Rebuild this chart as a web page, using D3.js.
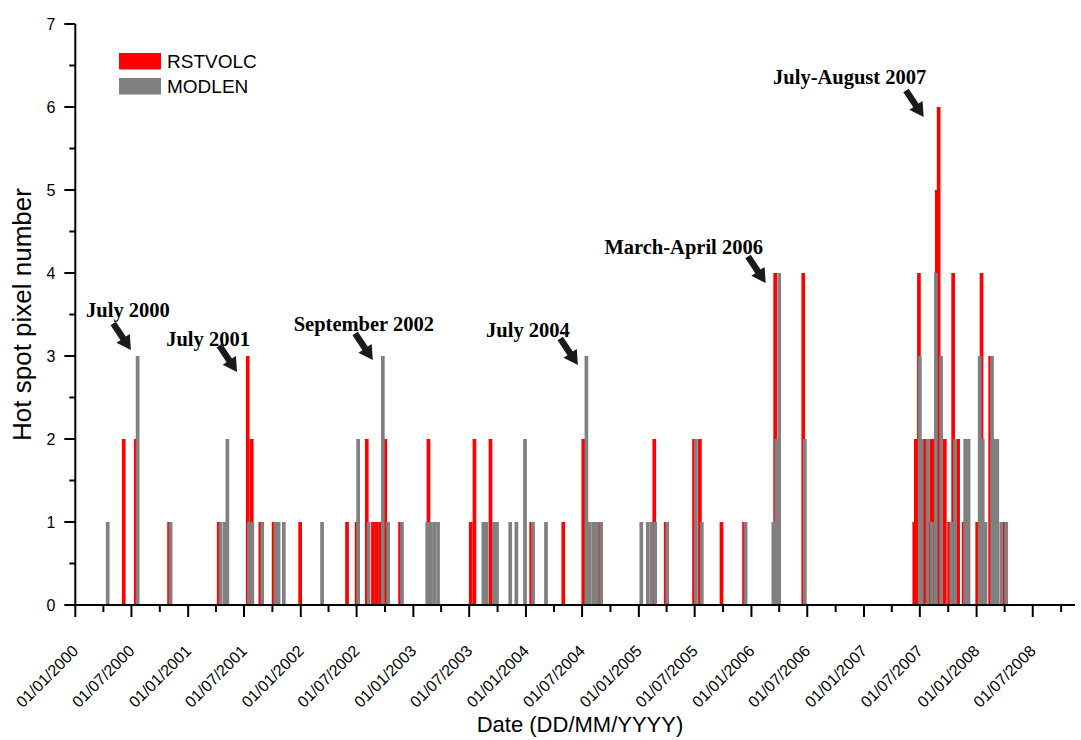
<!DOCTYPE html>
<html>
<head>
<meta charset="utf-8">
<script src="https://cdn.jsdelivr.net/npm/d3@7"></script>
<style>
  body { margin: 0; background: #fff; }
  svg { display: block; }
</style>
</head>
<body>
<svg id="chart" width="1081" height="740"></svg>
<script>
// Hot spot detections per acquisition date, two algorithms
const rstvolcDates = [
  "2000-06-06","2000-07-15","2000-10-31","2001-04-10","2001-07-13","2001-07-26",
  "2001-08-23","2001-10-05","2001-12-30","2002-05-31","2002-07-01","2002-08-03",
  "2002-08-23","2002-09-03","2002-09-15","2002-10-02","2002-11-19","2003-02-19",
  "2003-07-06","2003-07-18","2003-09-08","2004-01-18","2004-05-01","2004-07-05",
  "2004-08-23","2005-02-20","2005-03-29","2005-06-29","2005-07-18","2005-09-26",
  "2005-12-08","2006-03-19","2006-06-18","2007-06-13","2007-06-18","2007-06-28",
  "2007-07-15","2007-07-24","2007-08-01","2007-08-07","2007-08-15","2007-08-25",
  "2007-08-31","2007-09-20","2007-10-04","2007-10-17","2007-11-02","2007-11-20",
  "2008-01-03","2008-01-17","2008-02-14","2008-04-01"
];
const rstvolcCounts = [
  2,2,1,1,3,2,
  1,1,1,1,1,2,
  1,1,1,2,1,2,
  1,2,2,1,1,2,
  1,2,1,2,2,1,
  1,4,4,1,2,4,
  2,2,1,2,2,5,
  6,2,1,4,2,1,
  1,4,3,1
];

const modlenDates = [
  "2000-04-15","2000-07-21","2000-11-05","2001-04-16","2001-04-29","2001-05-08",
  "2001-07-17","2001-07-28","2001-08-29","2001-10-11","2001-10-21","2001-11-07",
  "2002-03-11","2002-07-06","2002-08-09","2002-09-24","2002-10-11","2002-11-25",
  "2003-02-15","2003-02-27","2003-03-10","2003-03-22","2003-08-16","2003-08-26",
  "2003-09-19","2003-09-29","2003-11-11","2003-12-01","2003-12-29","2004-01-24",
  "2004-03-06","2004-07-15","2004-07-26","2004-08-07","2004-08-18","2004-09-01",
  "2005-01-09","2005-01-30","2005-02-11","2005-02-23","2005-04-03","2005-07-05",
  "2005-07-24","2005-12-13","2006-03-13","2006-03-23","2006-04-01","2006-06-23",
  "2007-07-01","2007-07-07","2007-07-26","2007-08-09","2007-08-22","2007-09-08",
  "2007-10-11","2007-10-23","2007-11-25","2007-12-06","2008-01-11","2008-01-21",
  "2008-01-30","2008-02-20","2008-02-28","2008-03-08","2008-03-21","2008-04-06"
];
const modlenCounts = [
  1,3,1,1,1,2,
  1,1,1,1,1,1,
  1,2,1,3,1,1,
  1,1,1,1,1,1,
  1,1,1,1,2,1,
  1,3,1,1,1,1,
  1,1,1,1,1,2,
  1,1,1,2,4,2,
  3,2,2,1,4,3,
  1,2,2,2,3,2,
  1,3,2,2,1,1
];

const seriesNames = ["RSTVOLC", "MODLEN"];
const yTickValues = [0, 1, 2, 3, 4, 5, 6, 7];
const axisStart = "2000-01-01";
const axisEnd = "2008-11-15";

// Events called out on the chart
const noteLabels = ["July 2000", "July 2001", "September 2002", "July 2004", "March-April 2006", "July-August 2007"];
const noteDates  = ["2000-07-21", "2001-07-13", "2002-09-24", "2004-07-15", "2006-04-01", "2007-08-31"];
const noteCounts = [3, 3, 3, 3, 4, 6];

// ---- layout ----
const svg = d3.select("#chart");
const margin = { left: 75.3, top: 24, bottomY: 605, right: 1075 };
const parse = d3.utcParse("%Y-%m-%d");
const fmt = d3.utcFormat("%d/%m/%Y");
const colors = { RSTVOLC: "#ff0000", MODLEN: "#808080" };

const x = d3.scaleUtc()
  .domain([parse(axisStart), parse(axisEnd)])
  .range([margin.left, margin.right]);
const y = d3.scaleLinear()
  .domain([0, 7])
  .range([margin.bottomY, margin.top]);

const d0 = parse(axisStart);
const barW = x(d3.utcDay.offset(d0, 12)) - x(d0);

function barsFor(dates, counts) {
  return dates.map((d, i) => ({ date: parse(d), value: counts[i] }));
}
const rst = barsFor(rstvolcDates, rstvolcCounts);
const mod = barsFor(modlenDates, modlenCounts);

function drawBars(data, color) {
  svg.append("g").selectAll("rect").data(data).join("rect")
    .attr("x", d => x(d.date) - barW / 2)
    .attr("width", barW)
    .attr("y", d => y(d.value))
    .attr("height", d => y(0) - y(d.value))
    .attr("fill", color);
}
drawBars(rst, colors.RSTVOLC);
drawBars(mod, colors.MODLEN);

// ---- axes ----
const font = "Arial, 'Liberation Sans', Helvetica, sans-serif";

// y axis
const yAxis = svg.append("g").attr("transform", `translate(${margin.left},0)`);
yAxis.append("line")
  .attr("x1", 0).attr("x2", 0).attr("y1", y(7)).attr("y2", y(0))
  .attr("stroke", "#000").attr("stroke-width", 2);
yAxis.selectAll(".maj").data(yTickValues).join("line")
  .attr("x1", -11).attr("x2", 0)
  .attr("y1", d => y(d)).attr("y2", d => y(d))
  .attr("stroke", "#000").attr("stroke-width", 2);
yAxis.selectAll(".min").data(d3.range(0.5, 7, 1)).join("line")
  .attr("x1", -6).attr("x2", 0)
  .attr("y1", d => y(d)).attr("y2", d => y(d))
  .attr("stroke", "#000").attr("stroke-width", 2);
yAxis.selectAll("text").data(yTickValues).join("text")
  .attr("x", -20).attr("y", d => y(d)).attr("dy", "0.35em")
  .attr("text-anchor", "end")
  .attr("font-family", font).attr("font-size", 16)
  .text(d => d);

// x axis
const xAxis = svg.append("g").attr("transform", `translate(0,${margin.bottomY})`);
xAxis.append("line")
  .attr("x1", margin.left - 1).attr("x2", margin.right)
  .attr("y1", 0).attr("y2", 0)
  .attr("stroke", "#000").attr("stroke-width", 2);
const majorTicks = d3.utcMonth.every(6).range(parse(axisStart), d3.utcDay.offset(parse(axisEnd), 1));
const minorTicks = d3.utcMonth.every(3).range(parse(axisStart), parse(axisEnd))
  .filter(d => d.getUTCMonth() % 6 !== 0);
xAxis.selectAll(".maj").data(majorTicks).join("line")
  .attr("x1", d => x(d)).attr("x2", d => x(d))
  .attr("y1", 0).attr("y2", 12)
  .attr("stroke", "#000").attr("stroke-width", 2);
xAxis.selectAll(".min").data(minorTicks).join("line")
  .attr("x1", d => x(d)).attr("x2", d => x(d))
  .attr("y1", 0).attr("y2", 7)
  .attr("stroke", "#000").attr("stroke-width", 2);
xAxis.selectAll("text").data(majorTicks).join("text")
  .attr("transform", d => `translate(${x(d) + 4},${47}) rotate(-45)`)
  .attr("text-anchor", "end")
  .attr("font-family", font).attr("font-size", 16)
  .text(d => fmt(d));

// axis titles
svg.append("text")
  .attr("x", 580).attr("y", 732)
  .attr("text-anchor", "middle")
  .attr("font-family", font).attr("font-size", 22)
  .text("Date (DD/MM/YYYY)");
svg.append("text")
  .attr("transform", `translate(31,${(y(0) + y(7)) / 2}) rotate(-90)`)
  .attr("text-anchor", "middle")
  .attr("font-family", font).attr("font-size", 26)
  .text("Hot spot pixel number");

// legend
const legend = svg.append("g").attr("transform", "translate(119,53)");
seriesNames.forEach((name, i) => {
  legend.append("rect")
    .attr("x", 0).attr("y", i * 25)
    .attr("width", 42).attr("height", 16.5)
    .attr("fill", colors[name]);
  legend.append("text")
    .attr("x", 48).attr("y", i * 25 + 8.5).attr("dy", "0.35em")
    .attr("font-family", font).attr("font-size", 19)
    .text(name);
});

// annotations: arrow tip placed near the top of the referenced bar
const noteTip = [[-6.7, -6], [-10.7, 16], [-10, 4], [-8.5, 9], [-13.5, 10], [-15, 10]];
const noteText = [[-3, -40], [-29, -33], [-9, -36], [-50, -35], [-82, -36], [-74, -40]];
const arrowVec = [16, 24];

function arrowPath(tx, ty) {
  const len = Math.hypot(arrowVec[0], arrowVec[1]);
  const ux = arrowVec[0] / len, uy = arrowVec[1] / len;
  const nx = -uy, ny = ux;
  const sx = tx - arrowVec[0] - 3 * ux, sy = ty - arrowVec[1] - 3 * uy;
  const headL = 14, headW = 8, shaftW = 3.2;
  const bx = tx - ux * headL, by = ty - uy * headL;
  const pts = [
    [sx + nx * shaftW, sy + ny * shaftW],
    [bx + nx * shaftW, by + ny * shaftW],
    [bx + nx * headW, by + ny * headW],
    [tx, ty],
    [bx - nx * headW, by - ny * headW],
    [bx - nx * shaftW, by - ny * shaftW],
    [sx - nx * shaftW, sy - ny * shaftW]
  ];
  return "M" + pts.map(p => p.join(",")).join("L") + "Z";
}

const notes = svg.append("g");
noteLabels.forEach((label, i) => {
  const bx = x(parse(noteDates[i]));
  const by = y(noteCounts[i]);
  const tx = bx + noteTip[i][0], ty = by + noteTip[i][1];
  notes.append("path").attr("d", arrowPath(tx, ty)).attr("fill", "#1a1a1a");
  notes.append("text")
    .attr("x", tx + noteText[i][0]).attr("y", ty + noteText[i][1])
    .attr("dy", "0.35em")
    .attr("text-anchor", "middle")
    .attr("font-family", "'Liberation Serif', 'Times New Roman', serif")
    .attr("font-weight", "bold")
    .attr("font-size", 20.5)
    .text(label);
});
</script>
</body>
</html>
